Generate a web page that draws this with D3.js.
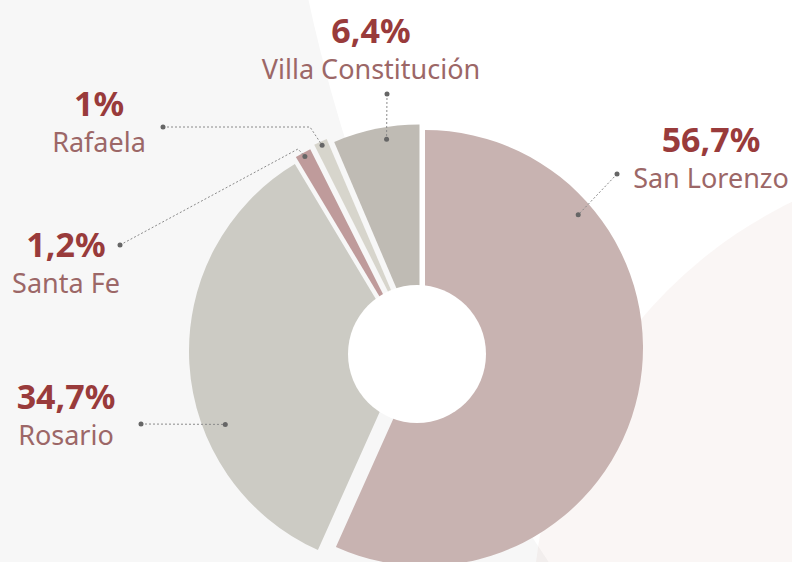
<html>
<head>
<meta charset="utf-8">
<script src="https://d3js.org/d3.v7.min.js"></script>
<style>
  body { margin: 0; background: #fff; }
  svg { display: block; }
  .pct { font-family: "Noto Sans", sans-serif; font-weight: 700; font-size: 34px; fill: #993b3b; }
  .name { font-family: "Noto Sans", sans-serif; font-size: 27px; fill: #9c6767; }
  .leader { fill: none; stroke: #8a8a8a; stroke-width: 1; stroke-dasharray: 2,2; }
</style>
</head>
<body>
<svg id="chart" width="792" height="562"></svg>
<script>
// data
var cities = ["San Lorenzo", "Rosario", "Santa Fe", "Rafaela", "Villa Constitución"];
var shares = [56.7, 34.7, 1.2, 1, 6.4];
var colors = ["#c8b3b1", "#cccbc4", "#bf9b9b", "#d7d5cc", "#bfbbb4"];

// layout bits (explode offset of each slice, label spot, leader anchor)
var explode = [[9, 2], [-9, 5], [-8, -2], [-4, -6.5], [3.5, -3.5]];
var labelPos = [[711, 152], [66, 409], [66, 257], [99, 116], [371, 43]];
var leaderStart = [[617, 174], [141, 424], [120, 245], [163, 127], [387, 94]];
var leaderElbow = [null, null, [298, 149], [310, 127], null];
var anchorAngle = [49, 248, null, null, 350.8];   // degrees, null = slice middle
var anchorRadius = [203, 196, 214, 214, 206];

var svg = d3.select("#chart");
var cx = 416, cy = 346, R = 218;

// background shapes
svg.append("rect").attr("width", 792).attr("height", 562).attr("fill", "#f7f7f7");
svg.append("circle").attr("cx", 1884).attr("cy", -341).attr("r", 1612).attr("fill", "#ffffff");
svg.append("circle").attr("cx", 992).attr("cy", 615).attr("r", 459)
   .attr("fill", "rgb(172,105,88)").attr("fill-opacity", 0.06);

var rows = cities.map(function(c, i) { return { city: c, value: shares[i], i: i }; });

var pie = d3.pie().sort(null).value(function(d) { return d.value; });
var arc = d3.arc().innerRadius(0).outerRadius(R);
var arcs = pie(rows);

var g = svg.append("g").attr("transform", "translate(" + cx + "," + cy + ")");

g.selectAll(".slice")
  .data(arcs)
  .enter().append("path")
  .attr("class", "slice")
  .attr("transform", function(d) { var o = explode[d.data.i]; return "translate(" + o[0] + "," + o[1] + ")"; })
  .attr("fill", function(d) { return colors[d.data.i]; })
  .attr("d", arc);

// donut hole
svg.append("circle").attr("cx", 417).attr("cy", 354).attr("r", 69).attr("fill", "#ffffff");

// leader lines
function anchorOf(d) {
  var i = d.data.i;
  var a = anchorAngle[i] == null ? (d.startAngle + d.endAngle) / 2 : anchorAngle[i] * Math.PI / 180;
  var r = anchorRadius[i];
  return [cx + explode[i][0] + r * Math.sin(a), cy + explode[i][1] - r * Math.cos(a)];
}

arcs.forEach(function(d) {
  var i = d.data.i;
  var pts = [leaderStart[i]];
  if (leaderElbow[i]) pts.push(leaderElbow[i]);
  var end = anchorOf(d);
  pts.push(end);
  svg.append("path").attr("class", "leader").attr("d", d3.line()(pts));
  [leaderStart[i], end].forEach(function(p) {
    svg.append("circle").attr("cx", p[0]).attr("cy", p[1]).attr("r", 2.5).attr("fill", "#666");
  });
});

// labels
var lab = svg.selectAll(".lab").data(rows).enter().append("g").attr("class", "lab");
lab.append("text").attr("class", "pct")
  .attr("x", function(d) { return labelPos[d.i][0]; })
  .attr("y", function(d) { return labelPos[d.i][1]; })
  .attr("text-anchor", "middle")
  .text(function(d) { return String(d.value).replace(".", ",") + "%"; });
lab.append("text").attr("class", "name")
  .attr("x", function(d) { return labelPos[d.i][0]; })
  .attr("y", function(d) { return labelPos[d.i][1] + 36; })
  .attr("text-anchor", "middle")
  .text(function(d) { return d.city; });
</script>
</body>
</html>
